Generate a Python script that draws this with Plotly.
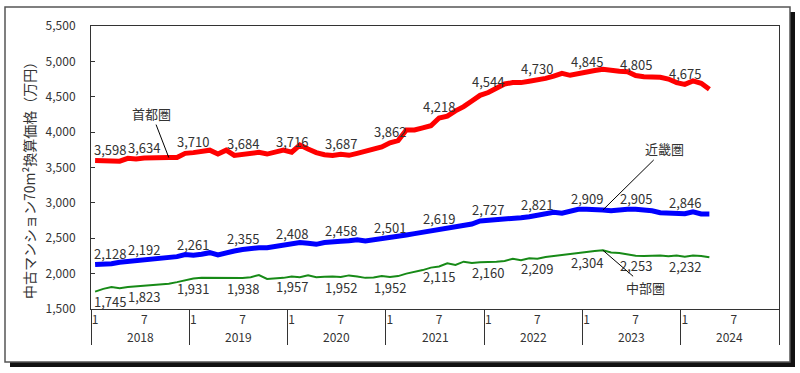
import plotly.graph_objects as go

# ---- data (monthly, Jan 2018 .. Apr 2024) ----
months_idx = list(range(76))
shutoken = [3598, 3600, 3605, 3590, 3630, 3620, 3634, 3640, 3640, 3640, 3640, 3700,
            3710, 3720, 3745, 3690, 3745, 3670, 3684, 3700, 3715, 3690, 3720, 3745,
            3716, 3818, 3760, 3710, 3680, 3670, 3687, 3672, 3700, 3730, 3750, 3790,
            3850, 3880, 4030, 4030, 4060, 4090, 4200, 4227, 4300, 4360, 4440, 4520,
            4560, 4630, 4680, 4700, 4700, 4720, 4737, 4760, 4790, 4831, 4803, 4830,
            4845, 4870, 4888, 4869, 4860, 4855, 4800, 4784, 4784, 4774, 4750, 4700,
            4675, 4723, 4690, 4605]
kinki = [2128, 2132, 2140, 2160, 2170, 2180, 2192, 2195, 2210, 2225, 2240, 2270,
         2261, 2275, 2296, 2265, 2300, 2320, 2340, 2355, 2367, 2367, 2385, 2405,
         2408, 2440, 2428, 2414, 2440, 2455, 2458, 2465, 2480, 2461, 2475, 2489,
         2501, 2520, 2545, 2565, 2585, 2600, 2619, 2650, 2670, 2690, 2701, 2744,
         2750, 2758, 2770, 2782, 2790, 2805, 2821, 2850, 2867, 2853, 2880, 2909,
         2909, 2909, 2900, 2890, 2905, 2909, 2910, 2900, 2889, 2860, 2853, 2860,
         2846, 2875, 2843, 2843]
chubu = [1745, 1785, 1810, 1795, 1810, 1820, 1823, 1835, 1840, 1858, 1880, 1910,
         1931, 1943, 1943, 1943, 1940, 1935, 1938, 1950, 1980, 1924, 1930, 1940,
         1960, 1950, 1975, 1948, 1955, 1960, 1952, 1975, 1960, 1940, 1945, 1965,
         1952, 1965, 2000, 2020, 2050, 2085, 2100, 2146, 2122, 2169, 2150, 2160,
         2160, 2169, 2180, 2210, 2190, 2216, 2209, 2235, 2249, 2265, 2280, 2295,
         2304, 2320, 2330, 2300, 2290, 2275, 2253, 2250, 2253, 2255, 2245, 2255,
         2240, 2255, 2250, 2230]

label_idx = list(range(0, 76, 6))
shutoken_labels = [3598, 3634, 3710, 3684, 3716, 3687, 3862, 4218, 4544, 4730, 4845, 4805, 4675]
kinki_labels = [2128, 2192, 2261, 2355, 2408, 2458, 2501, 2619, 2727, 2821, 2909, 2905, 2846]
chubu_labels = [1745, 1823, 1931, 1938, 1957, 1952, 1952, 2115, 2160, 2209, 2304, 2253, 2232]

month_tick_idx = list(range(0, 84, 6))
month_tick_text = ["1", "7"] * 7
years = ["2018", "2019", "2020", "2021", "2022", "2023", "2024"]

series_names = ["首都圏", "近畿圏", "中部圏"]
y_title = "中古マンション70m²換算価格（万円）"

FONT = "Noto Sans CJK JP, Noto Sans, sans-serif"
TXT = "#333333"

# geometry helpers (pixel -> paper)
L, R, T, B, W, H = 91, 21, 26, 64, 800, 373
PW, PH = W - L - R, H - T - B
def px(xp):
    return (xp - L) / PW
def py(yp):
    return (H - B - yp) / PH

fig = go.Figure()

colors = ["#ff0000", "#0000ff", "#178a17"]
widths = [5, 5, 2]
datas = [shutoken, kinki, chubu]
labels = [shutoken_labels, kinki_labels, chubu_labels]

for name, d, c, w in zip(series_names, datas, colors, widths):
    fig.add_trace(go.Scatter(x=months_idx, y=d, mode="lines", name=name,
                             line=dict(color=c, width=w), showlegend=False,
                             hoverinfo="skip"))

annotations = []
# data labels (above red/blue, below green)
label_shift = [11, 11, -10]
for k, (d, lab) in enumerate(zip(datas, labels)):
    for j, (i, v) in enumerate(zip(label_idx, lab)):
        annotations.append(dict(
            x=i, y=d[i], xref="x", yref="y", text=f"{v:,}", showarrow=False,
            xanchor="left" if j == 0 else "center", xshift=-3 if j == 0 else 0,
            yanchor="middle", yshift=label_shift[k],
            font=dict(family=FONT, size=13, color=TXT)))

# series name callouts
callouts = [(0, 9, -17, -44), (1, 62, 62, -61), (2, 62, 43, 37)]
for k, idx, ax, ay in callouts:
    annotations.append(dict(x=idx, y=datas[k][idx], xref="x", yref="y",
                            text=series_names[k], showarrow=True, arrowhead=0,
                            arrowwidth=1, arrowcolor="#000000", ax=ax, ay=ay,
                            standoff=0, startstandoff=0,
                            font=dict(family=FONT, size=13, color=TXT)))
# year labels
for j, yr in enumerate(years):
    annotations.append(dict(x=5.5 + 12 * j, y=py(336), xref="x", yref="paper",
                            text=yr, showarrow=False, yanchor="middle",
                            font=dict(family=FONT, size=12, color=TXT)))
# y title
annotations.append(dict(x=px(29), y=py(177), xref="paper", yref="paper",
                        text=y_title, showarrow=False, textangle=-90,
                        xanchor="center", yanchor="middle",
                        font=dict(family=FONT, size=14, color=TXT)))

shapes = [
    # shadow
    dict(type="rect", xref="paper", yref="paper", x0=px(790), x1=px(795),
         y0=py(367), y1=py(12), fillcolor="#111111", line=dict(width=0), layer="below"),
    dict(type="rect", xref="paper", yref="paper", x0=px(10), x1=px(795),
         y0=py(367), y1=py(362), fillcolor="#111111", line=dict(width=0), layer="below"),
    # outer frame
    dict(type="rect", xref="paper", yref="paper", x0=px(5), x1=px(790),
         y0=py(362), y1=py(7), line=dict(color="#555555", width=1.5),
         fillcolor="rgba(0,0,0,0)", layer="below"),
]

fig.update_layout(
    width=W, height=H,
    margin=dict(l=L, r=R, t=T, b=B),
    paper_bgcolor="white", plot_bgcolor="white",
    font=dict(family=FONT, size=12, color=TXT),
    annotations=annotations, shapes=shapes,
    xaxis=dict(range=[-0.5, 83.5], showgrid=False, zeroline=False,
               tickmode="array", tickvals=month_tick_idx, ticktext=month_tick_text,
               ticks="", showline=True, linecolor="#333333", linewidth=1, mirror=True,
               tickfont=dict(family=FONT, size=12, color=TXT),
               minor=dict(tickmode="array", tickvals=[-0.5 + 12 * j for j in range(8)],
                          ticks="outside", ticklen=35, tickwidth=1, tickcolor="#333333")),
    yaxis=dict(range=[1500, 5500], dtick=500, tickformat=",", showgrid=False,
               zeroline=False, ticks="inside", ticklen=4, tickcolor="#333333",
               showline=True, linecolor="#333333", linewidth=1, mirror=True,
               ticklabelstandoff=12,
               tickfont=dict(family=FONT, size=12, color=TXT)),
)

fig.write_html("out.html", config={"displayModeBar": False},
               post_script="document.body.style.margin='0';document.body.style.overflow='hidden';")
